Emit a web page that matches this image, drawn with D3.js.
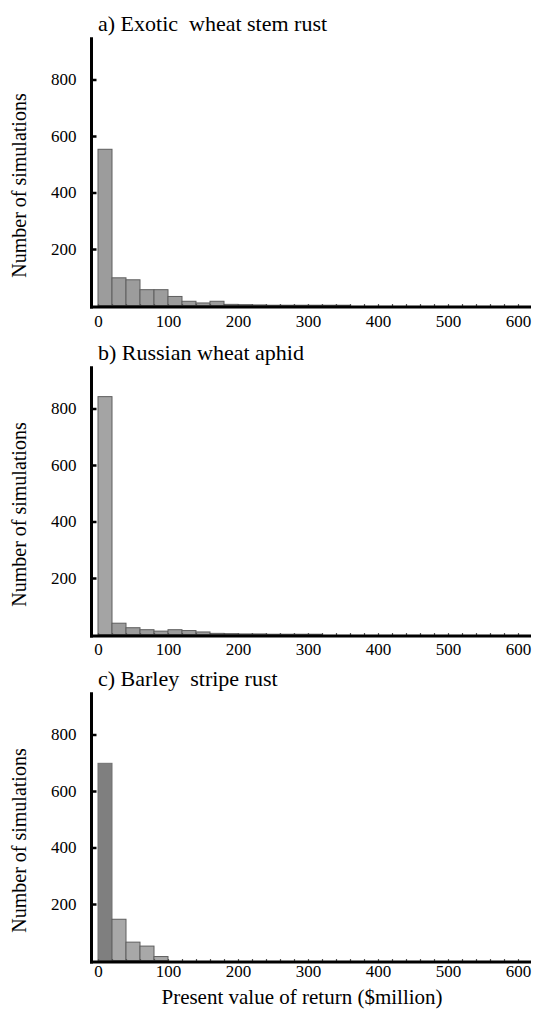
<!DOCTYPE html>
<html lang="en">
    <head>
        <meta charset="utf-8">
        <title>Histograms of present value of return</title>
        <script src="https://d3js.org/d3.v7.min.js"></script>
        <style type="text/css">
         body { margin: 0; background: #fff; }
         svg text { font-family: "Liberation Serif", "Times New Roman", "DejaVu Serif", serif; fill: #000; }
        </style>
    </head>
    <body>
        <script>
         // Width and height
         var width = 537;
         var height = 1011;

         // Histogram bins: $20 million each, 0 to 600
         var binEdges = d3.range(0, 600, 20);
         var xTickLabels = [0, 100, 200, 300, 400, 500, 600];
         var yTickLabels = [200, 400, 600, 800];

         var titles = ["a) Exotic  wheat stem rust", "b) Russian wheat aphid", "c) Barley  stripe rust"];

         // Number of simulations per bin
         var stemRust = [553, 98, 91, 56, 56, 32, 15, 9, 15, 4, 3, 2, 1, 1, 1, 1, 1, 1, 0, 0, 0, 0, 0, 0, 0, 0, 0, 0, 0, 0];
         var wheatAphid = [842, 40, 24, 17, 12, 17, 14, 9, 4, 3, 2, 2, 1, 1, 1, 1, 0, 0, 0, 0, 0, 0, 0, 0, 0, 0, 0, 0, 0, 0];
         var stripeRust = [698, 146, 65, 51, 14, 0, 0, 0, 0, 0, 0, 0, 0, 0, 0, 0, 0, 0, 0, 0, 0, 0, 0, 0, 0, 0, 0, 0, 0, 0];

         var panels = [
             { title: titles[0], values: stemRust, zero: 305.5, labelBase: 21.5, firstFill: "#9c9c9c" },
             { title: titles[1], values: wheatAphid, zero: 634.5, labelBase: 20.5, firstFill: "#a4a4a4" },
             { title: titles[2], values: stripeRust, zero: 960.5, labelBase: 16.5, firstFill: "#7f7f7f" }
         ];

         var svg = d3.select("body")
                     .append("svg")
                     .attr("width", width)
                     .attr("height", height);

         var x = d3.scaleLinear()
                   .domain([0, 600])
                   .range([98, 518]);

         panels.forEach(function(p, i) {
             var g = svg.append("g");
             var y = d3.scaleLinear()
                       .domain([0, 950])
                       .range([p.zero, p.zero - 950 * 0.2825]);

             // bars
             g.selectAll("rect")
              .data(p.values.map(function(v, k) { return { lo: binEdges[k], v: v, k: k }; }).filter(function(d) { return d.v > 0; }))
              .enter()
              .append("rect")
              .attr("x", function(d) { return x(d.lo); })
              .attr("width", function(d) { return x(d.lo + 20) - x(d.lo); })
              .attr("y", function(d) { return y(d.v); })
              .attr("height", function(d) { return y(0) - y(d.v); })
              .style("fill", function(d) { return d.k === 0 ? p.firstFill : (i === 2 ? "#a8a8a8" : "#9c9c9c"); })
              .style("stroke", function(d) { return d.k === 0 && i === 2 ? "#707070" : "#5e5e5e"; })
              .style("stroke-width", 1);

             // x axis: small inward ticks every bin
             var xAxis = d3.axisBottom(x)
                           .tickValues(d3.range(0, 601, 20))
                           .tickSize(-3)
                           .tickFormat(function(d) { return xTickLabels.indexOf(d) >= 0 ? d : ""; });
             var xg = g.append("g")
                       .attr("transform", "translate(0," + (p.zero + 1.5) + ")")
                       .call(xAxis);
             xg.select(".domain").remove();
             xg.selectAll(".tick line").style("stroke", "#555").style("stroke-width", 1.2);
             xg.selectAll(".tick text")
               .attr("y", p.labelBase - 1.5)
               .attr("dy", 0)
               .style("font-size", "17px");

             // y axis
             var yAxis = d3.axisLeft(y)
                           .tickValues(yTickLabels)
                           .tickSize(-5)
                           .tickPadding(15);
             var yg = g.append("g")
                       .attr("transform", "translate(91.5,0)")
                       .call(yAxis);
             yg.select(".domain").remove();
             yg.selectAll(".tick line").style("stroke", "#000").style("stroke-width", 2.5);
             yg.selectAll(".tick text")
               .style("font-size", "17px");

             // thick axis lines
             g.append("line")
              .attr("x1", 91.5).attr("x2", 91.5)
              .attr("y1", y(950)).attr("y2", p.zero + 3)
              .style("stroke", "#000").style("stroke-width", 3);
             g.append("line")
              .attr("x1", 90).attr("x2", 531)
              .attr("y1", p.zero + 1.5).attr("y2", p.zero + 1.5)
              .style("stroke", "#000").style("stroke-width", 3);

             // panel title
             g.append("text")
              .attr("x", 98)
              .attr("y", p.zero - 275)
              .style("font-size", "22px")
              .style("white-space", "pre")
              .attr("xml:space", "preserve")
              .text(p.title);

             // y axis title
             g.append("text")
              .attr("transform", "translate(19," + (p.zero - 120) + ") rotate(-90)")
              .attr("text-anchor", "middle")
              .attr("dy", "0.35em")
              .style("font-size", "20px")
              .text("Number of simulations");
         });

         // x axis title
         svg.append("text")
            .attr("x", 302)
            .attr("y", 1004)
            .attr("text-anchor", "middle")
            .style("font-size", "21px")
            .text("Present value of return ($million)");
        </script>
    </body>
</html>
